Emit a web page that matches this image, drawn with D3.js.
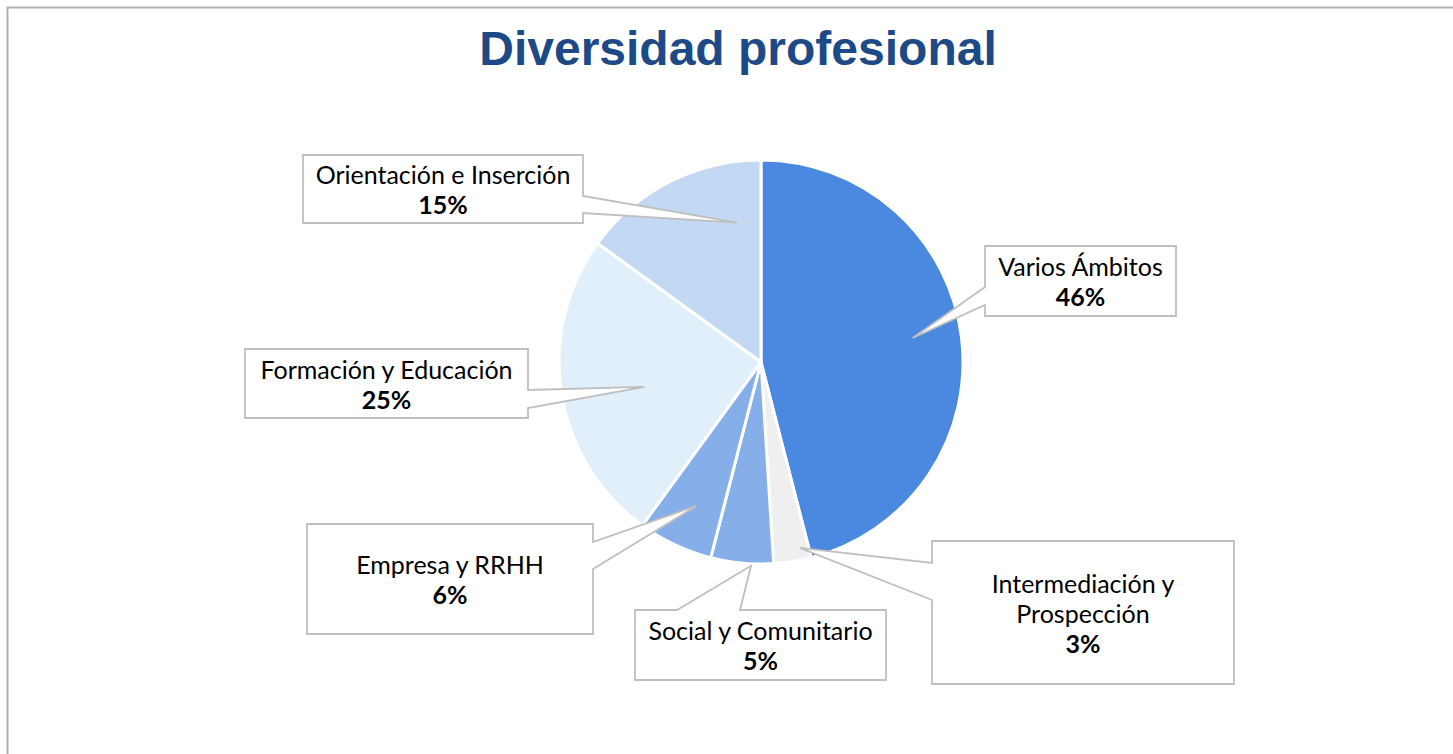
<!DOCTYPE html>
<html><head><meta charset="utf-8">
<script src="https://cdn.jsdelivr.net/npm/d3@7"></script>
<style>html,body{margin:0;padding:0;background:#fff;overflow:hidden}</style>
</head><body>
<svg id="chart" width="1453" height="754"></svg>
<script>
// ---- data ----
const categories = ["Varios Ámbitos", "Intermediación y Prospección", "Social y Comunitario", "Empresa y RRHH", "Formación y Educación", "Orientación e Inserción"];
const labelLines = [["Varios Ámbitos"], ["Intermediación y", "Prospección"], ["Social y Comunitario"], ["Empresa y RRHH"], ["Formación y Educación"], ["Orientación e Inserción"]];
const values = [46, 3, 5, 6, 25, 15];
const colors = ["#4A89DF", "#EFEFEF", "#86AFEA", "#86AFEA", "#E1EFFB", "#C3D8F3"];
const title = "Diversidad profesional";

// ---- layout (callout boxes) ----
const boxes = [
  {x0: 985, y0: 246, x1: 1176, y1: 316, side: "left",  a: 287, b: 305, tipAngle: 81,    tipR: 0.76},
  {x0: 932, y0: 541, x1: 1234, y1: 684, side: "left",  a: 563, b: 600, tipAngle: 168.2, tipR: 0.94},
  {x0: 635, y0: 610, x1: 886,  y1: 680, side: "top",   a: 677, b: 740, tipAngle: 182.8, tipR: 1.01},
  {x0: 307, y0: 524, x1: 593,  y1: 634, side: "right", a: 542, b: 569, tipAngle: 204.1, tipR: 0.78},
  {x0: 245, y0: 349, x1: 528,  y1: 418, side: "right", a: 390, b: 408, tipAngle: 258,   tipR: 0.59},
  {x0: 303, y0: 155, x1: 583,  y1: 223, side: "right", a: 196, b: 213, tipAngle: 350.2, tipR: 0.70}
];

const svg = d3.select("#chart");
const cx = 761, cy = 362, R = 202;

// frame
svg.append("rect").attr("x", 7.5).attr("y", 7.5).attr("width", 1470).attr("height", 770)
  .attr("fill", "none").attr("stroke", "#B3B0B0").attr("stroke-width", 2);

// title
svg.append("text").attr("x", 738).attr("y", 65).attr("text-anchor", "middle")
  .attr("font-family", "'Liberation Sans', Arial, sans-serif").attr("font-weight", "bold")
  .attr("font-size", 48).attr("fill", "#1D4A86").text(title);

const data = categories.map((c, i) => ({cat: c, value: values[i], color: colors[i], lines: labelLines[i], box: boxes[i]}));
const pie = d3.pie().sort(null).value(d => d.value);
const arc = d3.arc().innerRadius(0).outerRadius(R);
const arcs = pie(data);

const g = svg.append("g").attr("transform", `translate(${cx},${cy})`);
g.selectAll("path.slice").data(arcs).join("path").attr("class", "slice")
  .attr("d", arc).attr("fill", d => d.data.color)
  .attr("stroke", "#fff").attr("stroke-width", 3).attr("stroke-linejoin", "round");

// callouts
function calloutPath(b, tip) {
  const {x0, y0, x1, y1, side, a} = b, bb = b.b;
  const p = [];
  p.push([x0, y0]);
  if (side === "top") { p.push([a, y0], tip, [bb, y0]); }
  p.push([x1, y0]);
  if (side === "right") { p.push([x1, a], tip, [x1, bb]); }
  p.push([x1, y1]);
  p.push([x0, y1]);
  if (side === "left") { p.push([x0, bb], tip, [x0, a]); }
  return "M" + p.map(q => q.join(",")).join("L") + "Z";
}

const lab = svg.append("g");
data.forEach(d => {
  const b = d.box;
  const ang = b.tipAngle * Math.PI / 180;
  const tip = [cx + R * b.tipR * Math.sin(ang), cy - R * b.tipR * Math.cos(ang)];
  lab.append("path").attr("d", calloutPath(b, tip))
    .attr("fill", "#fff").attr("stroke", "#BFBFBF").attr("stroke-width", 1.8).attr("stroke-linejoin", "miter");
  const lines = d.lines.concat([d.value + "%"]);
  const lh = 30;
  const midX = (b.x0 + b.x1) / 2, midY = (b.y0 + b.y1) / 2;
  const startY = midY - (lines.length - 1) * lh / 2 + 10;
  const t = lab.append("text").attr("text-anchor", "middle")
    .attr("font-family", "Lato, 'Noto Sans', sans-serif").attr("font-size", 25).attr("fill", "#000");
  lines.forEach((ln, i) => {
    t.append("tspan").attr("x", midX).attr("y", startY + i * lh)
      .attr("font-weight", i === lines.length - 1 ? "bold" : "normal").text(ln);
  });
});
</script>
</body></html>
